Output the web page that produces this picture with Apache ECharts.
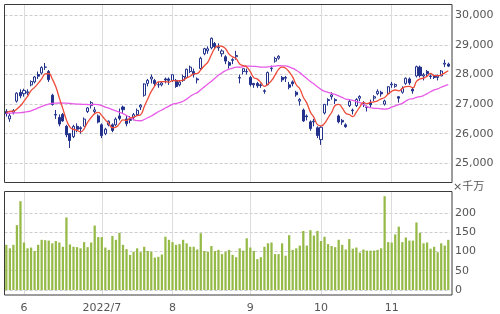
<!DOCTYPE html>
<html><head><meta charset="utf-8">
<script src="https://cdn.jsdelivr.net/npm/echarts@6/dist/echarts.min.js"></script>
<style>html,body{margin:0;padding:0;background:#fff}#c{width:500px;height:314px}</style>
</head><body><div id="c"></div>
<script>
// trading days per month (2022)
const daysMay = [25,26,27,30,31];
const daysJun = [1,2,3,6,7,8,9,10,13,14,15,16,17,20,21,22,23,24,27,28,29,30];
const daysJul = [1,4,5,6,7,8,11,12,13,14,15,19,20,21,22,25,26,27,28,29];
const daysAug = [1,2,3,4,5,8,9,10,12,15,16,17,18,19,22,23,24,25,26,29,30,31];
const daysSep = [1,2,5,6,7,8,9,12,13,14,15,16,20,21,22,26,27,28,29,30];
const daysOct = [3,4,5,6,7,11,12,13,14,17,18,19,20,21,24,25,26,27,28,31];
const daysNov = [1,2,4,7,8,9,10,11,14,15,16,17,18,21,22,24,25];

const monthStarts = ['2022/6/1','2022/7/1','2022/8/1','2022/9/1','2022/10/3','2022/11/1'];
const monthLabels = ['6','2022/7','8','9','10','11'];
const priceTicks = [25000, 30000, 1000];
const volumeTicks = [0, 200, 50];

const opens = [26750,26500,26720,27100,27390,27350,27380,27650,27750,28000,28050,28250,28100,27300,26650,26550,26650,26250,26000,25900,26250,26200,26250,26750,26950,26750,26600,26300,26000,26300,26300,26300,26600,26900,26500,26450,26550,26650,26900,27300,27700,27850,27800,27650,27650,27850,27850,27800,27800,27650,27800,27900,28100,28100,27850,28200,28700,28800,28900,29050,28900,28700,28600,28400,28500,28600,27900,28100,28100,27900,27700,27700,27650,27450,27650,28200,28450,28550,27900,27900,27650,27750,27400,27100,26800,26600,26400,26400,26200,25800,26700,27150,27250,27150,26600,26450,26300,26950,26800,26950,27200,27000,26900,27050,27200,27350,27400,27000,27350,27650,27600,27250,27400,27700,27850,27500,27950,28250,27950,28100,27950,27950,27900,27950,28350,28350];
const closes = [26678,26605,26782,27369,27280,27458,27414,27762,27916,27944,28234,28247,27824,26987,26630,26326,26431,25963,25771,26246,26150,26171,26492,26871,27049,26805,26393,25936,26154,26423,26108,26491,26517,26812,26337,26479,26643,26788,26962,27680,27803,27915,27699,27655,27716,27815,27802,27993,27595,27742,27932,28176,28249,28000,27819,28547,28872,28869,29223,28942,28930,28795,28453,28313,28479,28641,27879,28196,28092,27661,27651,27620,27627,27430,28065,28215,28542,28615,27819,27876,27568,27688,27313,27154,26432,26572,26174,26422,25937,26216,26992,27121,27311,27116,26401,26397,26237,27091,26776,27156,27257,27007,26891,26975,27250,27432,27345,27105,27587,27679,27663,27200,27528,27872,27716,27446,28264,27963,27990,28028,27931,27900,27945,28116,28383,28283];
const lows = [26580,26400,26650,27050,27200,27250,27300,27600,27700,27850,28000,28150,27750,26950,26500,26250,26400,25880,25520,25850,26050,26000,26250,26700,26850,26700,26350,25850,25950,26250,26050,26250,26450,26700,26250,26350,26450,26600,26800,27250,27600,27700,27600,27550,27600,27700,27650,27750,27550,27600,27750,27900,28050,27900,27700,28150,28650,28700,28850,28850,28800,28600,28350,28200,28350,28500,27700,28000,28000,27600,27550,27550,27550,27350,27650,28100,28400,28500,27750,27750,27500,27600,27250,26950,26400,26450,26100,26250,25850,25621,26650,26950,27150,27000,26350,26300,26200,26900,26650,26900,27100,26900,26750,26900,27100,27300,27250,26950,27350,27550,27550,27050,27350,27650,27650,27350,27900,27900,27800,27950,27850,27850,27800,27950,28250,28250];
const highs = [26830,26700,26830,27400,27500,27520,27500,27800,27950,28100,28280,28390,28150,27350,26800,26650,26700,26300,26000,26300,26350,26250,26550,26900,27100,26900,26650,26350,26200,26450,26350,26550,26850,26950,26600,26600,26700,26850,27000,27700,27850,28000,27850,27750,27760,27900,27900,28000,27850,27800,28000,28200,28300,28200,27900,28600,28900,28950,29250,29100,29050,28850,28650,28450,28550,28800,28000,28200,28200,27950,27700,27750,27700,27500,28100,28300,28600,28650,27950,27950,27750,27800,27450,27200,26850,26650,26450,26500,26250,26250,27000,27200,27400,27200,26650,26500,26350,27150,26850,27200,27300,27100,26950,27150,27300,27500,27450,27150,27600,27750,27700,27250,27600,27900,27900,27550,28300,28300,28050,28150,28000,28000,28000,28150,28500,28400];
const ma5 = [26714,26754,26763,26836,26943,27099,27261,27457,27566,27699,27854,28021,28033,27847,27584,27203,26840,26467,26224,26147,26112,26060,26166,26386,26547,26678,26722,26611,26467,26342,26203,26222,26339,26470,26453,26527,26558,26612,26642,26910,27175,27430,27612,27750,27758,27760,27737,27796,27784,27789,27813,27888,27939,28020,28035,28158,28297,28421,28666,28891,28967,28952,28869,28687,28594,28536,28353,28302,28257,28094,27896,27844,27730,27598,27679,27791,27976,28173,28251,28213,28084,27913,27653,27520,27231,27032,26729,26551,26307,26264,26348,26538,26715,26951,26988,26869,26692,26648,26580,26731,26903,27057,27017,27057,27076,27111,27179,27221,27344,27430,27476,27447,27531,27588,27596,27552,27765,27852,27876,27938,28035,27962,27959,27984,28055,28125];
const ma25 = [26690,26695,26700,26705,26712,26725,26745,26775,26820,26870,26920,26965,27000,27025,27035,27038,27035,27030,27020,27010,27000,26995,26990,26986,26984,26989,26981,26947,26898,26864,26810,26773,26723,26679,26615,26545,26480,26439,26438,26480,26539,26598,26668,26743,26802,26869,26934,26994,27023,27051,27096,27167,27259,27333,27389,27487,27582,27676,27772,27877,27975,28061,28127,28181,28213,28247,28245,28265,28283,28281,28274,28267,28252,28246,28258,28270,28284,28299,28292,28294,28255,28208,28145,28063,27962,27868,27763,27682,27587,27496,27430,27400,27365,27325,27275,27225,27170,27148,27122,27086,27047,26986,26917,26883,26858,26853,26839,26831,26848,26898,26942,26983,27027,27104,27164,27182,27228,27254,27289,27354,27416,27482,27516,27570,27619,27660];
const volume = [117,108,117,168,230,123,108,110,101,117,130,129,128,121,127,123,112,188,118,112,111,108,124,111,123,167,137,137,110,104,140,130,148,117,106,91,99,108,98,112,101,99,84,86,92,138,130,124,117,119,130,121,112,112,105,147,101,99,114,101,104,93,99,104,91,85,108,102,134,110,101,80,85,112,121,123,93,93,121,89,142,104,108,115,153,115,155,141,153,127,138,119,114,111,130,117,105,132,107,110,97,105,102,102,102,104,108,243,124,123,144,164,124,136,128,128,175,148,121,123,107,112,98,121,115,130];

const categories = [];
[[5,daysMay],[6,daysJun],[7,daysJul],[8,daysAug],[9,daysSep],[10,daysOct],[11,daysNov]].forEach(([m, ds]) => ds.forEach(d => categories.push('2022/' + m + '/' + d)));
const ohlc = opens.map((o, i) => [o, closes[i], lows[i], highs[i]]);

const navy = '#22328c';
const gridL = 4.55, gridW = 445.5;
const labelStyle = {color: '#555', fontSize: 11, fontFamily: 'DejaVu Sans'};
function xCat(gridIndex, showLabel) {
  return {
    type: 'category', gridIndex, data: categories, boundaryGap: true,
    axisLine: {show: false}, axisTick: {show: false}, splitLine: {show: false},
    axisLabel: showLabel ? Object.assign({
      interval: (i, v) => monthStarts.indexOf(v) >= 0,
      formatter: v => monthLabels[monthStarts.indexOf(v)],
      margin: 9
    }, labelStyle) : {show: false}
  };
}
const vLines = {
  silent: true, symbol: 'none', z: 1,
  label: {show: false},
  lineStyle: {color: '#dcdcdc', type: 'solid', width: 1},
  emphasis: {disabled: true},
  data: monthStarts.map(d => ({xAxis: d}))
};

const chart = echarts.init(document.getElementById('c'), null, {renderer: 'canvas'});
chart.setOption({
  animation: false,
  backgroundColor: '#fff',
  grid: [
    {left: gridL, width: gridW, top: 15.3, height: 148},
    {left: gridL, width: gridW, top: 212.8, height: 77.2},
    {left: gridL, width: gridW, top: 4.5, height: 178},
    {left: gridL, width: gridW, top: 191.5, height: 103.5}
  ],
  xAxis: [xCat(0, false), xCat(1, false), xCat(2, false), xCat(3, true)],
  yAxis: [
    {type: 'value', gridIndex: 0, position: 'right', min: priceTicks[0], max: priceTicks[1], interval: priceTicks[2],
     axisLine: {show: false}, axisTick: {show: false},
     axisLabel: Object.assign({margin: 5}, labelStyle),
     splitLine: {lineStyle: {color: '#cccccc', type: [3, 2]}}},
    {type: 'value', gridIndex: 1, position: 'right', min: volumeTicks[0], max: volumeTicks[1], interval: volumeTicks[2],
     axisLine: {show: false}, axisTick: {show: false},
     axisLabel: Object.assign({margin: 5}, labelStyle),
     splitLine: {lineStyle: {color: '#cccccc', type: [3, 2]}}},
    {type: 'value', gridIndex: 2, show: false},
    {type: 'value', gridIndex: 3, show: false}
  ],
  series: [
    {type: 'line', xAxisIndex: 2, yAxisIndex: 2, data: [], z: 0, markLine: vLines},
    {type: 'line', xAxisIndex: 3, yAxisIndex: 3, data: [], z: 0, markLine: vLines},
    {type: 'candlestick', xAxisIndex: 0, yAxisIndex: 0, data: ohlc, barWidth: '72%',
     itemStyle: {color: '#ffffff', color0: navy, borderColor: navy, borderColor0: navy, borderWidth: 1}},
    {type: 'line', xAxisIndex: 0, yAxisIndex: 0, data: ma25, smooth: true, showSymbol: false,
     lineStyle: {color: '#e85ae8', width: 1.3}, z: 3},
    {type: 'line', xAxisIndex: 0, yAxisIndex: 0, data: ma5, smooth: true, showSymbol: false,
     lineStyle: {color: '#ee4b3a', width: 1.3}, z: 4},
    {type: 'bar', xAxisIndex: 1, yAxisIndex: 1, data: volume, barWidth: '64%', clip: false,
     itemStyle: {color: '#96ba48'}}
  ],
  graphic: [
    {type: 'rect', z: 100, silent: true, shape: {x: 4.5, y: 4.5, width: 447.5, height: 178},
     style: {fill: null, stroke: '#3a3a3a', lineWidth: 1}},
    {type: 'rect', z: 100, silent: true, shape: {x: 4.5, y: 191.5, width: 447.5, height: 103.5},
     style: {fill: null, stroke: '#3a3a3a', lineWidth: 1}},
    {type: 'text', z: 100, silent: true, left: 453, top: 182,
     style: {text: '×千万', fill: '#555', font: '11px "DejaVu Sans", "Noto Sans CJK JP"'}}
  ]
});
</script></body></html>
